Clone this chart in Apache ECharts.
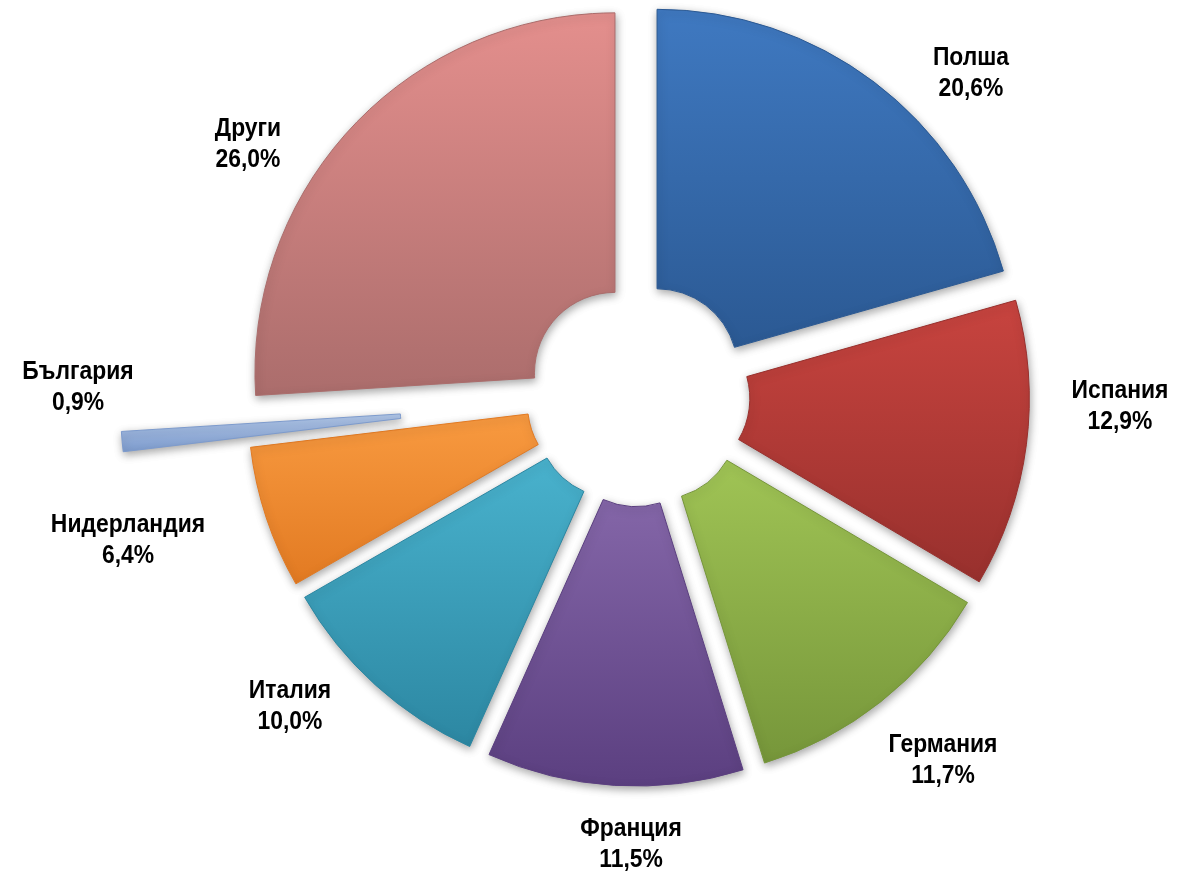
<!DOCTYPE html>
<html>
<head>
<meta charset="utf-8">
<script src="https://cdn.jsdelivr.net/npm/echarts@6/dist/echarts.min.js"></script>
<style>
  html, body { margin: 0; padding: 0; background: #ffffff; }
  #chart { width: 1180px; height: 876px; }
</style>
</head>
<body>
<div id="chart"></div>
<script>
// ---- data ----
const categories = ['Полша', 'Испания', 'Германия', 'Франция', 'Италия', 'Нидерландия', 'България', 'Други'];
const shares = [20.6, 12.9, 11.7, 11.5, 10.0, 6.4, 0.9, 26.0];
const farExploded = 'България';

// ---- styling ----
const topColors    = ['#3f79c1', '#c8443f', '#a0c455', '#8466a8', '#49b2cd', '#f89a40', '#b2c8ea', '#e48f8d'];
const bottomColors = ['#2b5993', '#98302d', '#76963a', '#5b3f80', '#2c87a2', '#e27a22', '#7d9bcd', '#ab6d6c'];
// label anchor offsets from the pie centre (px)
const labelOffsets = [[333, -321], [482, 12], [305, 366], [-7, 450], [-348, 312], [-510, 146], [-560, -7], [-390, -250]];

const CX = 638, CY = 394.5, R_IN = 80.5, R_OUT = 360;

function grad(i) {
  return new echarts.graphic.LinearGradient(0, 0, 0, 1, [
    { offset: 0, color: topColors[i] },
    { offset: 1, color: bottomColors[i] }
  ]);
}

function buildData(visibleFn) {
  return categories.map((name, i) => {
    const vis = visibleFn(name);
    const st = vis ? {
      color: grad(i),
      borderColor: bottomColors[i],
      borderWidth: 1,
      shadowBlur: 8,
      shadowColor: 'rgba(0,0,0,0.35)',
      shadowOffsetX: 1,
      shadowOffsetY: 3
    } : { color: 'rgba(0,0,0,0)', opacity: 0 };
    return {
      name: name,
      value: shares[i],
      selected: true,
      itemStyle: st,
      select: { itemStyle: st }
    };
  });
}

const base = {
  type: 'pie',
  center: [CX, CY],
  radius: [R_IN, R_OUT],
  startAngle: 90,
  clockwise: true,
  selectedMode: 'multiple',
  silent: true,
  animation: false,
  label: { show: false },
  labelLine: { show: false },
  emphasis: { disabled: true }
};

const fmt = v => v.toFixed(1).replace('.', ',') + '%';

const labels = categories.map((name, i) => ({
  type: 'text',
  x: CX + labelOffsets[i][0],
  y: CY + labelOffsets[i][1],
  scaleX: 0.88,
  silent: true,
  z: 100,
  style: {
    text: name + '\n' + fmt(shares[i]),
    fill: '#000',
    font: "bold 26px 'Liberation Sans', Arial, sans-serif",
    align: 'center',
    verticalAlign: 'middle',
    lineHeight: 31
  }
}));

const chart = echarts.init(document.getElementById('chart'), null, { renderer: 'canvas' });
chart.setOption({
  backgroundColor: '#ffffff',
  animation: false,
  series: [
    Object.assign({}, base, {
      selectedOffset: 31.6,
      data: buildData(n => n !== farExploded)
    }),
    Object.assign({}, base, {
      selectedOffset: 158,
      data: buildData(n => n === farExploded)
    })
  ],
  graphic: { elements: labels }
});
</script>
</body>
</html>
